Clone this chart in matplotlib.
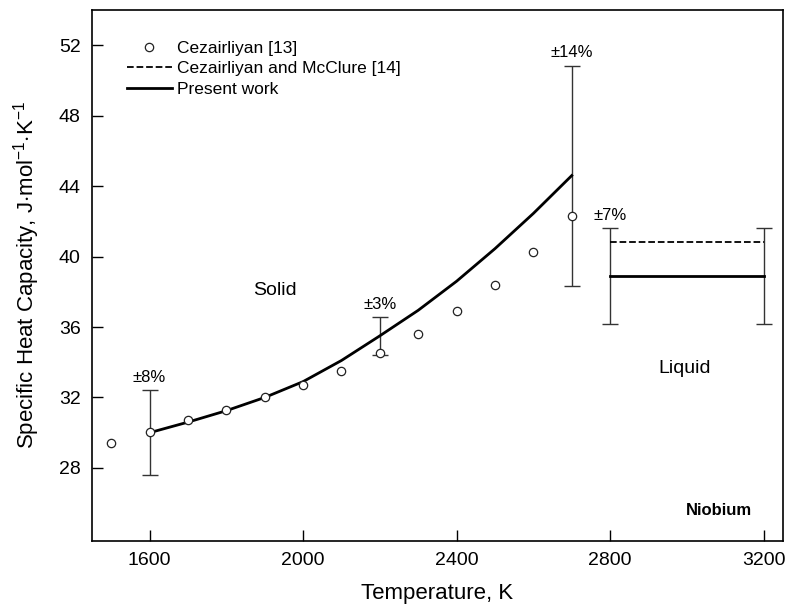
import numpy as np
import matplotlib
matplotlib.use("Agg")
import matplotlib.pyplot as plt

plt.rcParams['font.family'] = ['Liberation Sans', 'DejaVu Sans']
plt.rcParams['mathtext.fontset'] = 'custom'
plt.rcParams['mathtext.rm'] = 'Liberation Sans'
plt.rcParams['mathtext.it'] = 'Liberation Sans'

# Cezairliyan [13] data points
cez_T = [1500, 1600, 1700, 1800, 1900, 2000, 2100, 2200, 2300, 2400, 2500, 2600, 2700]
cez_cp = [29.4, 30.05, 30.7, 31.3, 32.0, 32.7, 33.5, 34.5, 35.6, 36.9, 38.4, 40.25, 42.3]

# Present work, solid phase
solid_T = [1600, 1700, 1800, 1900, 2000, 2100, 2200, 2300, 2400, 2500, 2600, 2700]
solid_cp = [30.0, 30.6, 31.25, 32.0, 32.9, 34.1, 35.5, 36.95, 38.6, 40.45, 42.45, 44.6]

# Liquid phase
liq_T = [2800, 3200]
liq_present = [38.9, 38.9]
liq_mcclure = [40.8, 40.8]

# uncertainty bars: temperature, value, percent
unc_T = [1600, 2200, 2700, 2800, 3200]
unc_cp = [30.0, 35.5, 44.6, 38.9, 38.9]
unc_pct = [8, 3, 14, 7, 7]
unc_labels = ['±8%', '±3%', '±14%', '±7%', None]

fig = plt.figure(figsize=(7.86, 6.07), dpi=100)
ax = fig.add_axes([0.117, 0.1087, 0.879, 0.8748])

err = [c * p / 100 for c, p in zip(unc_cp, unc_pct)]
ax.errorbar(unc_T, unc_cp, yerr=err, fmt='none', ecolor='#333333',
            elinewidth=1.0, capsize=6, capthick=1.0, zorder=2)
for t, c, e, lab in zip(unc_T, unc_cp, err, unc_labels):
    if lab:
        ax.text(t, c + e + 0.3, lab, ha='center', va='bottom', fontsize=12)

ax.plot(cez_T, cez_cp, 'o', mfc='white', mec='#222222', ms=6, mew=0.9,
        label='Cezairliyan [13]', zorder=4)
ax.plot(liq_T, liq_mcclure, '--', color='black', lw=1.3,
        label='Cezairliyan and McClure [14]', zorder=3)
ax.plot(solid_T, solid_cp, '-', color='black', lw=2.0, label='Present work', zorder=3)
ax.plot(liq_T, liq_present, '-', color='black', lw=2.0, zorder=3)

ax.text(1927, 38.1, 'Solid', ha='center', va='center', fontsize=14)
ax.text(2995, 33.65, 'Liquid', ha='center', va='center', fontsize=14)
ax.text(3083, 25.6, 'Niobium', ha='center', va='center', fontsize=12, fontweight='bold')

ax.set_xlim(1450, 3250)
ax.set_ylim(23.85, 54)
ax.set_xticks([1600, 2000, 2400, 2800, 3200])
ax.set_yticks([28, 32, 36, 40, 44, 48, 52])
ax.tick_params(direction='in', length=8, width=1, labelsize=14, pad=8)
for s in ax.spines.values():
    s.set_linewidth(1.2)

ax.set_xlabel('Temperature, K', fontsize=16, labelpad=10)
ax.set_ylabel(r'Specific Heat Capacity, J$\cdot$mol$^{-1}$$\cdot$K$^{-1}$', fontsize=16, labelpad=12)

ax.legend(loc='upper left', bbox_to_anchor=(0.04, 0.955), frameon=False, fontsize=12.5,
          handlelength=2.6, handletextpad=0.3, labelspacing=0.3, borderaxespad=0)

fig.savefig('out.png', dpi=100)
